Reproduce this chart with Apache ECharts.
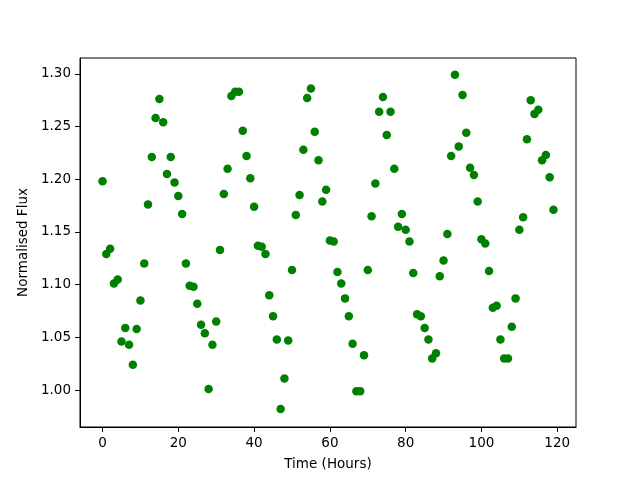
<!DOCTYPE html>
<html>
<head>
<meta charset="utf-8">
<script src="https://cdn.jsdelivr.net/npm/echarts@6/dist/echarts.min.js"></script>
<style>
  html, body { margin: 0; padding: 0; background: #fff; }
  #chart { width: 640px; height: 480px; }
</style>
</head>
<body>
<div id="chart"></div>
<script>
// hours 0..119 and the flux
var hours = [];
for (var h = 0; h < 120; h++) hours.push(h);

var flux = [
  1.198, 1.129, 1.134, 1.101, 1.105, 1.046, 1.059, 1.043, 1.024, 1.058,
  1.085, 1.120, 1.176, 1.221, 1.258, 1.276, 1.254, 1.205, 1.221, 1.197,
  1.184, 1.167, 1.120, 1.099, 1.098, 1.082, 1.062, 1.054, 1.001, 1.043,
  1.065, 1.133, 1.186, 1.210, 1.279, 1.283, 1.283, 1.246, 1.222, 1.201,
  1.174, 1.137, 1.136, 1.129, 1.090, 1.070, 1.048, 0.982, 1.011, 1.047,
  1.114, 1.166, 1.185, 1.228, 1.277, 1.286, 1.245, 1.218, 1.179, 1.190,
  1.142, 1.141, 1.112, 1.101, 1.087, 1.070, 1.044, 0.999, 0.999, 1.033,
  1.114, 1.165, 1.196, 1.264, 1.278, 1.242, 1.264, 1.210, 1.155, 1.167,
  1.152, 1.141, 1.111, 1.072, 1.070, 1.059, 1.048, 1.030, 1.035, 1.108,
  1.123, 1.148, 1.222, 1.299, 1.231, 1.280, 1.244, 1.211, 1.204, 1.179,
  1.143, 1.139, 1.113, 1.078, 1.080, 1.048, 1.030, 1.030, 1.060, 1.087,
  1.152, 1.164, 1.238, 1.275, 1.262, 1.266, 1.218, 1.223, 1.202, 1.171
];

var xTicks = [0, 20, 40, 60, 80, 100, 120];
var yTicks = [1.00, 1.05, 1.10, 1.15, 1.20, 1.25, 1.30];

var points = [];
for (var i = 0; i < hours.length; i++) points.push([hours[i], flux[i]]);

var chart = echarts.init(document.getElementById('chart'), null, { renderer: 'canvas' });
var font = 'DejaVu Sans';

chart.setOption({
  animation: false,
  backgroundColor: '#fff',
  grid: {
    left: 80, right: 64, top: 58, bottom: 53,
    show: true, borderColor: '#000', borderWidth: 1
  },
  xAxis: {
    type: 'value',
    min: -5.95, max: 124.95,
    name: 'Time (Hours)',
    nameLocation: 'middle',
    nameGap: 30,
    nameTextStyle: { fontFamily: font, fontSize: 13.5, color: '#000' },
    axisLine: { show: true, onZero: false, lineStyle: { color: '#000', width: 1 } },
    axisTick: { show: true, length: 5, customValues: xTicks, lineStyle: { color: '#000' } },
    axisLabel: {
      customValues: xTicks, margin: 9,
      fontFamily: font, fontSize: 13.5, color: '#000'
    },
    splitLine: { show: false }
  },
  yAxis: {
    type: 'value',
    min: 0.965, max: 1.315,
    name: 'Normalised Flux',
    nameLocation: 'middle',
    nameGap: 44,
    nameTextStyle: { fontFamily: font, fontSize: 13.5, color: '#000' },
    axisLine: { show: true, onZero: false, lineStyle: { color: '#000', width: 1 } },
    axisTick: { show: true, length: 5, customValues: yTicks, lineStyle: { color: '#000' } },
    axisLabel: {
      customValues: yTicks, margin: 9,
      fontFamily: font, fontSize: 13.5, color: '#000',
      formatter: function(v) { return v.toFixed(2); }
    },
    splitLine: { show: false }
  },
  series: [{
    type: 'scatter',
    data: points,
    symbol: 'circle',
    symbolSize: 8.5,
    itemStyle: { color: '#008000', opacity: 1 }
  }]
});
</script>
</body>
</html>
